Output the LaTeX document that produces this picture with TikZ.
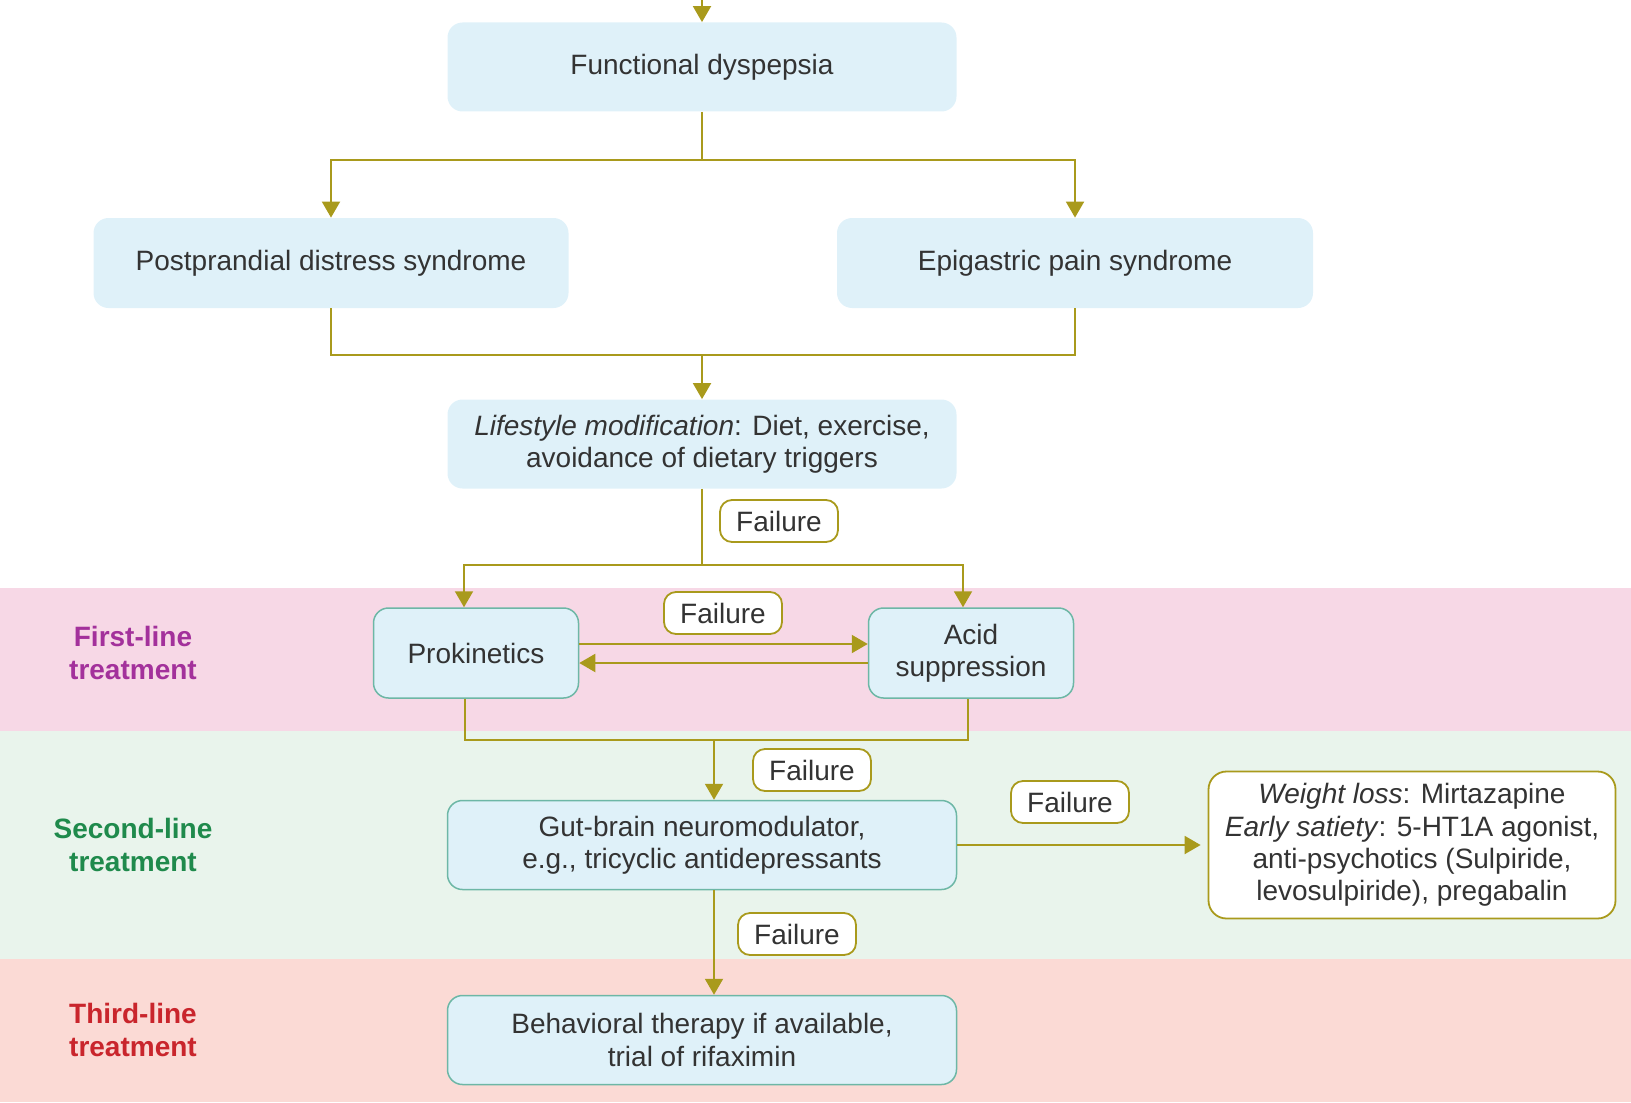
\documentclass[tikz,border=0pt]{standalone}
\usepackage{fontspec}
\setmainfont{Liberation Sans}
\usepackage{tikz}
\usetikzlibrary{arrows.meta,shapes,positioning,calc}
\usepackage{xcolor}

\definecolor{linecol}{HTML}{A99A1C}
\definecolor{boxblue}{HTML}{DFF1F9}
\definecolor{boxedge}{HTML}{6DB7A6}
\definecolor{bandpink}{HTML}{F7D8E6}
\definecolor{bandgreen}{HTML}{E9F4EC}
\definecolor{bandred}{HTML}{FBDAD5}
\definecolor{textgray}{HTML}{333333}
\definecolor{tierone}{HTML}{A3319B}
\definecolor{tiertwo}{HTML}{1F8A4C}
\definecolor{tierthree}{HTML}{C9252C}

\begin{document}
\begin{tikzpicture}[
    x=0.5pt, y=-0.5pt,
    font=\fontsize{14}{16.2}\selectfont,
    topbox/.style={rectangle, rounded corners=7.5pt, fill=boxblue, text=textgray,
        align=center, minimum height=44.5pt},
    linebox/.style={topbox, draw=boxedge, line width=0.75pt},
    failbox/.style={rectangle, rounded corners=6pt, draw=linecol, line width=0.9pt,
        fill=white, text=textgray, minimum width=59pt, minimum height=21pt, inner sep=2pt},
    tier/.style={font=\fontsize{14}{16.2}\selectfont\bfseries, align=center},
    conn/.style={draw=linecol, line width=1pt},
    arr/.style={conn, -{Triangle[length=8pt,width=9pt]}}
]
    \useasboundingbox (0,0) rectangle (1631,1102);

    % treatment bands
    \fill[bandpink] (0,588) rectangle (1631,731);
    \fill[bandgreen] (0,731) rectangle (1631,959);
    \fill[bandred] (0,959) rectangle (1631,1102);

    \node[tier, text=tierone] (tone) at (133,653) {First-line\\treatment};
    \node[tier, text=tiertwo] (ttwo) at (133,845) {Second-line\\treatment};
    \node[tier, text=tierthree] (tthree) at (133,1030) {Third-line\\treatment};

    % boxes
    \node[topbox, minimum width=254.5pt] (fd) at (702,67) {Functional dyspepsia};
    \node[topbox, minimum width=237.5pt, minimum height=45pt] (pds) at (331,263)
        {Postprandial distress syndrome};
    \node[topbox, minimum width=238pt, minimum height=45pt] (eps) at (1075,263)
        {Epigastric pain syndrome};
    \node[topbox, minimum width=254.5pt] (life) at (702,444)
        {\textit{Lifestyle modification}: Diet, exercise,\\avoidance of dietary triggers};
    \node[linebox, minimum width=102.5pt, minimum height=45pt] (prok) at (476,653) {Prokinetics};
    \node[linebox, minimum width=102.5pt, minimum height=45pt] (acid) at (971,653) {Acid\\suppression};
    \node[linebox, minimum width=254.5pt] (gut) at (702,845)
        {Gut-brain neuromodulator,\\e.g., tricyclic antidepressants};
    \node[rectangle, rounded corners=9pt, draw=linecol, line width=0.9pt, fill=white,
        text=textgray, align=center, minimum width=203.5pt, minimum height=73.5pt] (alt) at (1412,845)
        {\textit{Weight loss}: Mirtazapine\\\textit{Early satiety}: 5-HT1A agonist,\\
         anti-psychotics (Sulpiride,\\levosulpiride), pregabalin};
    \node[linebox, minimum width=254.5pt] (beh) at (702,1040)
        {Behavioral therapy if available,\\trial of rifaximin};

    % connectors
    \coordinate (entry) at (702,0);
    \coordinate (split1) at (702,160);
    \coordinate (join1) at (702,355);
    \coordinate (split2) at (702,565);
    \coordinate (join2) at (714,740);

    \draw[arr] (entry) -- (fd.north);
    \draw[conn] (fd.south) -- (split1);
    \draw[arr] (split1) -| (pds.north);
    \draw[arr] (split1) -| (eps.north);
    \draw[conn] (pds.south) |- (join1) -| (eps.south);
    \draw[arr] (join1) -- (life.north);

    \draw[conn] (life.south) -- (split2);
    \draw[arr] (split2) -| ([xshift=-6pt]prok.north);
    \draw[arr] (split2) -| ([xshift=-4pt]acid.north);
    \node[failbox] (fone) at (779,521) {Failure};

    \draw[arr] ([yshift=4.5pt]prok.east) -- ([yshift=4.5pt]acid.west);
    \draw[arr] ([yshift=-5pt]acid.west) -- ([yshift=-5pt]prok.east);
    \node[failbox] (ftwo) at (723,613) {Failure};

    \draw[conn] ([xshift=-5.5pt]prok.south) |- (join2) -| ([xshift=-1.5pt]acid.south);
    \draw[arr] (join2) -- ([xshift=6pt]gut.north);
    \node[failbox] (fthree) at (812,770) {Failure};

    \draw[arr, shorten >=3.5pt] (gut.east) -- (alt.west);
    \node[failbox] (ffour) at (1070,802) {Failure};

    \draw[arr] ([xshift=6pt]gut.south) -- ([xshift=6pt]beh.north);
    \node[failbox] (ffive) at (797,934) {Failure};
\end{tikzpicture}
\end{document}
